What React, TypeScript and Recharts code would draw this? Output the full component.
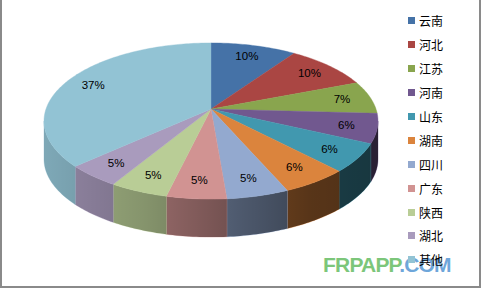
import React from 'react';
import { PieChart, Pie, Cell, Legend } from 'recharts';

const provinces = ['云南', '河北', '江苏', '河南', '山东', '湖南', '四川', '广东', '陕西', '湖北', '其他'];
const shares = [9.6, 9.5, 6.8, 6.1, 5.9, 5.6, 5.2, 5.0, 4.9, 4.6, 36.8];
const sliceColors = [
   '#4572A7', '#AA4643', '#89A54E', '#71588F', '#4198AF', '#DB843D',
   '#93A9CF', '#D19392', '#B9CD96', '#A99BBD', '#92C3D4',
];

const data = provinces.map((name, i) => ({ name, value: shares[i] }));

// fake 3D look: squash + a bit of perspective, plus a side wall
const TILT = 0.462;
const PERSP = 0.154;
const DEPTH = 38;
const EDGE = (Math.acos(-PERSP) * 180) / Math.PI; // rim angle where the wall starts showing

// theta = degrees clockwise from 12 o'clock
function project(cx: number, cy: number, r: number, theta: number, f = 1) {
   const t = (theta * Math.PI) / 180;
   const u = Math.sin(t);
   const w = Math.cos(t);
   const d = 1 + PERSP * f * w;
   return [cx + (r * f * u) / d, cy - (r * TILT * f * w) / d];
}

function arcPoints(cx: number, cy: number, r: number, from: number, to: number, dy = 0) {
   const n = Math.max(2, Math.ceil(Math.abs(to - from)));
   const pts: string[] = [];
   for (let i = 0; i <= n; i++) {
      const [x, y] = project(cx, cy, r, from + ((to - from) * i) / n);
      pts.push(`${x.toFixed(2)},${(y + dy).toFixed(2)}`);
   }
   return pts;
}

function Slice3D(props: any) {
   const { cx, cy, outerRadius, startAngle, endAngle, fill, index } = props;
   const t0 = 90 - startAngle;
   const t1 = 90 - endAngle;
   const top = `M${cx},${cy} L${arcPoints(cx, cy, outerRadius, t0, t1).join(' L')} Z`;
   const s0 = Math.max(t0, EDGE);
   const s1 = Math.min(t1, 360 - EDGE);
   const gid = `side-shade-${index ?? 0}`;
   let side = null;
   if (s1 > s0) {
      const d =
         `M${arcPoints(cx, cy, outerRadius, s0, s1).join(' L')} ` +
         `L${arcPoints(cx, cy, outerRadius, s1, s0, DEPTH).join(' L')} Z`;
      side = (
         <g>
            <path d={d} fill={fill} stroke={fill} strokeWidth={0.4} />
            <path d={d} fill={`url(#${gid})`} />
         </g>
      );
   }
   return (
      <g>
         <defs>
            <linearGradient
               id={gid}
               gradientUnits="userSpaceOnUse"
               x1={cx - outerRadius}
               x2={cx + outerRadius}
               y1={0}
               y2={0}
            >
               <stop offset="0" stopColor="#000" stopOpacity={0.14} />
               <stop offset="0.3" stopColor="#000" stopOpacity={0.28} />
               <stop offset="0.6" stopColor="#000" stopOpacity={0.48} />
               <stop offset="0.8" stopColor="#000" stopOpacity={0.6} />
               <stop offset="1" stopColor="#000" stopOpacity={0.64} />
            </linearGradient>
         </defs>
         {side}
         <path d={top} fill={fill} stroke={fill} strokeWidth={0.4} />
      </g>
   );
}

const renderPercent = (props: any) => {
   const { cx, cy, outerRadius, midAngle, percent } = props;
   const [x, y] = project(cx, cy, outerRadius, 90 - midAngle, 0.82);
   return (
      <text
         x={x}
         y={y}
         textAnchor="middle"
         dominantBaseline="central"
         fontSize={11.5}
         fontFamily="'Liberation Sans', Arial, sans-serif"
         fill="#000"
      >
         {`${Math.round(percent * 100)}%`}
      </text>
   );
};

// keep the legend in data order (recharts sorts it by name otherwise)
const renderLegend = (props: any) => {
   const items = [...(props.payload || [])].sort(
      (a: any, b: any) => provinces.indexOf(a.value) - provinces.indexOf(b.value)
   );
   return (
      <div style={{ fontFamily: "'Noto Sans CJK SC', sans-serif", fontSize: 12, color: '#000' }}>
         {items.map((entry: any, i: number) => {
            const idx = provinces.indexOf(entry.value);
            return (
               <div key={`leg-${i}`} style={{ height: 23.9, display: 'flex', alignItems: 'center' }}>
                  <span
                     style={{
                        display: 'inline-block',
                        width: 7,
                        height: 7,
                        marginRight: 4,
                        background: idx >= 0 ? sliceColors[idx] : entry.color,
                     }}
                  />
                  <span>{entry.value}</span>
               </div>
            );
         })}
      </div>
   );
};

export default function App() {
   return (
      <div
         style={{
            position: 'absolute',
            left: 0,
            top: 0,
            width: 481,
            height: 288,
            background: '#fff',
            boxSizing: 'border-box',
            borderLeft: '2px solid #8a8a8a',
            borderRight: '2px solid #8a8a8a',
            borderBottom: '2px solid #8a8a8a',
         }}
      >
         {/* watermark sits under the chart */}
         <svg width={481} height={288} style={{ position: 'absolute', left: -2, top: 0 }}>
            <text
               x={323}
               y={272}
               fontSize={21}
               fontWeight="bold"
               letterSpacing={-0.8}
               fontFamily="'Liberation Sans', Arial, sans-serif"
            >
               <tspan fill="#7CC67A">FRPAPP</tspan>
               <tspan fill="#6EA6DA">.COM</tspan>
            </text>
         </svg>
         <div style={{ position: 'absolute', left: -2, top: 0 }}>
            <PieChart width={481} height={288} margin={{ top: 0, right: 0, bottom: 0, left: 0 }}>
               <Pie
                  data={data}
                  dataKey="value"
                  nameKey="name"
                  cx={211}
                  cy={109}
                  outerRadius={165}
                  startAngle={90}
                  endAngle={-270}
                  stroke="none"
                  labelLine={false}
                  label={renderPercent}
                  shape={Slice3D}
                  activeShape={Slice3D}
                  inactiveShape={Slice3D}
                  isAnimationActive={false}
               >
                  {data.map((entry, index) => (
                     <Cell key={`cell-${index}`} fill={sliceColors[index]} />
                  ))}
               </Pie>
               <Legend
                  layout="vertical"
                  align="right"
                  verticalAlign="top"
                  content={renderLegend}
                  wrapperStyle={{ left: 408, top: 9, width: 60 }}
               />
            </PieChart>
         </div>
      </div>
   );
}
